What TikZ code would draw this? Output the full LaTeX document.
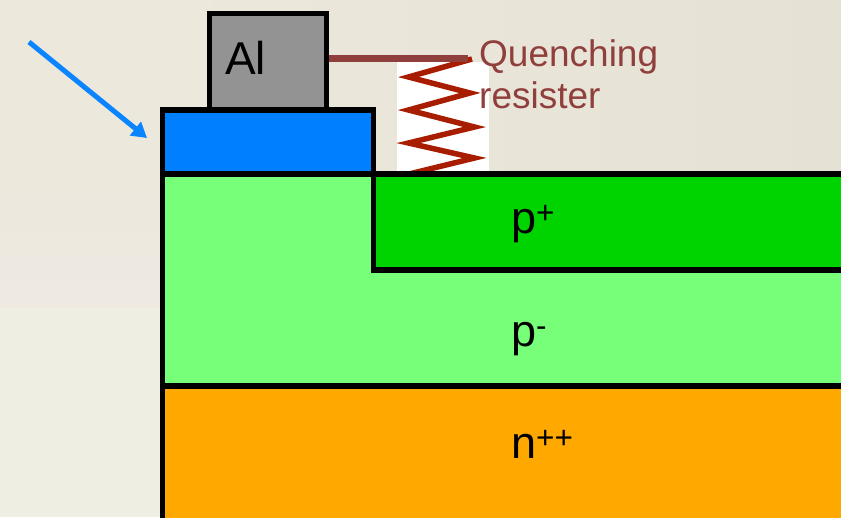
\documentclass[tikz,border=0pt]{standalone}
\usepackage{fontspec}
\setmainfont{Liberation Sans}
\usetikzlibrary{arrows.meta}
\definecolor{bgtop}{HTML}{ECE8DC}
\definecolor{bgright}{HTML}{E6E1D5}
\definecolor{bgpink}{HTML}{EEE9E1}
\definecolor{bglow}{HTML}{EFEEE2}
\definecolor{alfill}{HTML}{939393}
\definecolor{bluefill}{HTML}{0080FF}
\definecolor{lightgreen}{HTML}{77FF7A}
\definecolor{darkgreen}{HTML}{00D400}
\definecolor{orangefill}{HTML}{FFA800}
\definecolor{arrowblue}{HTML}{0A84FF}
\definecolor{zigred}{HTML}{A81C00}
\definecolor{labelred}{HTML}{8F3F3C}
\tikzset{
  layer/.style={draw=black,line width=5.2pt,inner sep=0pt,outer sep=0pt,rectangle},
  bigtext/.style={font=\fontsize{45}{45}\selectfont,inner sep=0pt,anchor=base west,text=black},
  redtext/.style={font=\fontsize{37}{42}\selectfont,inner sep=0pt,anchor=base west,text=labelred},
}
\begin{document}
\begin{tikzpicture}[x=1pt,y=-1pt]
\useasboundingbox (0,0) rectangle (841,517);
\fill[bgtop] (0,0) rectangle (841,517);
\shade[left color=bgtop,right color=bgright] (165,0) rectangle (841,175);
\fill[bgpink] (0,290) rectangle (165,308);
\shade[top color=bgtop,bottom color=bgpink] (0,175) rectangle (165,290);
\fill[bglow] (0,308) rectangle (165,517);
\clip (0,0) rectangle (841,517);
\coordinate (rayA) at (29,42);
\coordinate (rayB) at (147,138);
\draw[arrowblue,line width=5pt,-{Triangle[length=15pt,width=17pt]}] (rayA) -- (rayB);
\fill[white] (397,62) rectangle (489,173);
\begin{scope}
\clip (380,50) rectangle (500,173);
\draw[zigred,line width=5.5pt,miter limit=10]
  (472,59) -- (408.5,77) -- (470,93) -- (408.5,110) -- (474.5,127) -- (408.5,143) -- (474.5,158) -- (405,175);
\end{scope}
\node[layer,fill=alfill,minimum width=117pt,minimum height=97pt] (al) at (268,62) {};
\node[layer,fill=bluefill,minimum width=211pt,minimum height=64pt] (blue) at (268,142) {};
\node[layer,fill=lightgreen,minimum width=690pt,minimum height=212pt] (pminus) at (507.5,280) {};
\node[layer,fill=darkgreen,minimum width=480pt,minimum height=96pt] (pplus) at (613.5,222) {};
\node[layer,fill=orangefill,minimum width=690pt,minimum height=150pt] (npp) at (507.5,461) {};
\coordinate (wireEnd) at (468,58.5);
\draw[labelred,line width=6.5pt] (al.east |- wireEnd) ++(2.5pt,0) -- (wireEnd);
\node[bigtext,font=\fontsize{46}{46}\selectfont] (allabel) at (225,74) {Al};
\node[bigtext] (pplabel) at (511,233) {p\textsuperscript{+}};
\node[bigtext] (pmlabel) at (511,346) {p\textsuperscript{-}};
\node[bigtext] (nlabel) at (511,458) {n\textsuperscript{++}};
\node[redtext] (q1) at (479,66) {Quenching};
\node[redtext] (q2) at (479,108) {resister};
\end{tikzpicture}
\end{document}
